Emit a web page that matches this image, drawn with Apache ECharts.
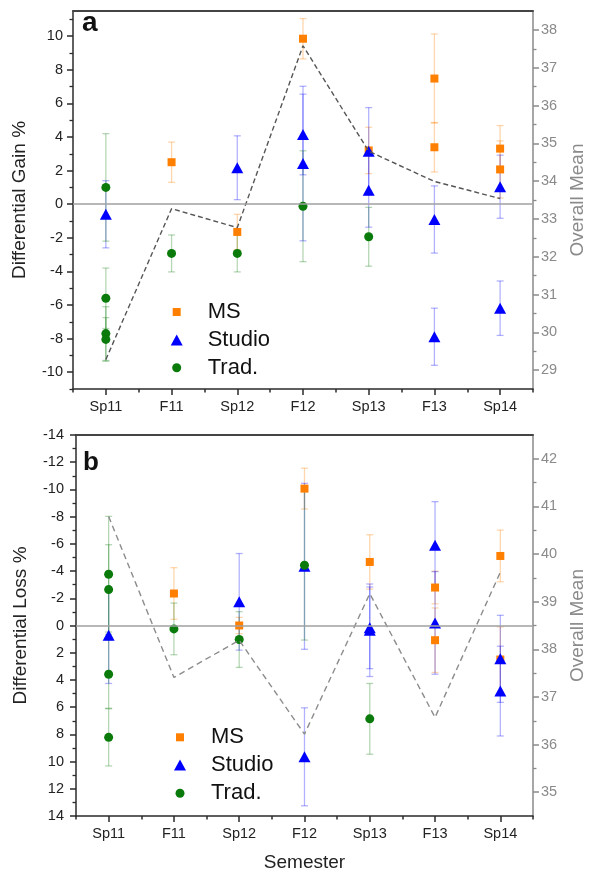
<!DOCTYPE html>
<html><head><meta charset="utf-8">
<script src="https://cdn.jsdelivr.net/npm/echarts@6/dist/echarts.min.js"></script>
<style>html,body{margin:0;padding:0;background:#fff}#c{width:595px;height:873px}</style>
</head><body><div id="c"></div>
<script>
// ---------- data ----------
const categories = ['Sp11', 'F11', 'Sp12', 'F12', 'Sp13', 'F13', 'Sp14'];

// Panel a: [semester, differential gain %, error]
const gainMS = [
  ['F11', 2.5, 1.2], ['Sp12', -1.65, 1.05], ['F12', 9.85, 1.2], ['Sp13', 3.2, 1.38],
  ['F13', 7.48, 2.65], ['F13', 3.39, 1.47], ['Sp14', 3.31, 1.37], ['Sp14', 2.07, 1.7]
];
const gainStudio = [
  ['Sp11', -0.6, 2.0], ['Sp12', 2.17, 1.9], ['F12', 4.15, 2.4], ['F12', 2.42, 4.6],
  ['Sp13', 3.15, 2.6], ['Sp13', 0.83, 2.2], ['F13', -0.91, 2.0], ['F13', -7.89, 1.7],
  ['Sp14', 1.04, 1.88], ['Sp14', -6.19, 1.62]
];
const gainTrad = [
  ['Sp11', 1.0, 3.2], ['Sp11', -5.6, 1.8], ['Sp11', -7.7, 1.6], ['Sp11', -8.05, 1.3],
  ['F11', -2.93, 1.1], ['Sp12', -2.93, 1.1], ['F12', -0.12, 3.3], ['Sp13', -1.94, 1.75]
];
const gainOverall = [29.28, 33.27, 32.77, 37.58, 34.79, 33.99, 33.54];

// Panel b: [semester, differential loss %, error]
const lossMS = [
  ['F11', -2.35, 1.9], ['Sp12', 0.0, 0.6], ['F12', -10.06, 1.5], ['Sp13', -4.67, 2.0],
  ['F13', -2.79, 1.2], ['F13', 1.08, 2.37], ['Sp14', -5.11, 1.9], ['Sp14', 2.5, 2.4]
];
const lossStudio = [
  ['Sp11', 0.71, 3.55], ['Sp12', -1.74, 3.55], ['F12', -4.35, 6.1], ['F12', 9.65, 3.6],
  ['Sp13', 0.17, 3.0], ['Sp13', 0.35, 3.4], ['F13', -5.9, 3.2], ['F13', -0.19, 3.77],
  ['Sp14', 2.45, 3.2], ['Sp14', 4.82, 3.3]
];
const lossTrad = [
  ['Sp11', -3.77, 4.25], ['Sp11', -2.64, 3.3], ['Sp11', 3.58, 2.5], ['Sp11', 8.22, 2.1],
  ['F11', 0.25, 1.9], ['Sp12', 1.03, 2.05], ['F12', -4.43, 5.5], ['Sp13', 6.86, 2.6]
];
const lossOverall = [40.79, 37.41, 38.19, 36.22, 39.17, 36.57, 39.62];

// tick values
const gainTicks = [-10, -8, -6, -4, -2, 0, 2, 4, 6, 8, 10];
const gainMinorTicks = [-11, -9, -7, -5, -3, -1, 1, 3, 5, 7, 9, 11];
const meanATicks = [29, 30, 31, 32, 33, 34, 35, 36, 37, 38];
const meanAMinorTicks = [29.5, 30.5, 31.5, 32.5, 33.5, 34.5, 35.5, 36.5, 37.5];
const meanBTicks = [35, 36, 37, 38, 39, 40, 41, 42];
const meanBMinorTicks = [35.5, 36.5, 37.5, 38.5, 39.5, 40.5, 41.5];

// ---------- styles ----------
const FONT = '"Liberation Sans", Arial, sans-serif';
const DARK = '#2b2b2b';
const GREY = '#8a8a8a';
const C_MS = '#ff7f00', C_ST = '#0000ff', C_TR = '#0a7a0a';
const E_MS = 'rgba(255,127,0,0.32)', E_ST = 'rgba(0,0,255,0.3)', E_TR = 'rgba(10,122,10,0.3)';

const errData = arr => arr.map(d => [d[0], d[1] - d[2], d[1] + d[2]]);
const ptData = arr => arr.map(d => [d[0], d[1]]);

function errRender(params, api) {
  const x = api.value(0);
  const lo = api.coord([x, api.value(1)]);
  const hi = api.coord([x, api.value(2)]);
  const hw = 3.5;
  const style = { stroke: api.visual('color'), lineWidth: 1.3 };
  return {
    type: 'group', children: [
      { type: 'line', shape: { x1: lo[0], y1: lo[1], x2: hi[0], y2: hi[1] }, style },
      { type: 'line', shape: { x1: lo[0] - hw, y1: lo[1], x2: lo[0] + hw, y2: lo[1] }, style },
      { type: 'line', shape: { x1: hi[0] - hw, y1: hi[1], x2: hi[0] + hw, y2: hi[1] }, style }
    ]
  };
}

function xAxes(grid, nameOpt) {
  const line = { show: true, onZero: false, lineStyle: { color: DARK, width: 1.5 } };
  return [
    Object.assign({
      gridIndex: grid, type: 'category', data: categories, position: 'bottom', boundaryGap: true,
      axisLine: line,
      axisTick: { show: true, alignWithLabel: true, length: 6, lineStyle: { color: DARK, width: 1.5 } },
      axisLabel: { color: '#222', fontSize: 14.5, fontFamily: FONT, margin: 10, interval: 0 },
      splitLine: { show: false }
    }, nameOpt || {}),
    {
      gridIndex: grid, type: 'category', data: categories, position: 'bottom', boundaryGap: true,
      axisLine: { show: false, onZero: false },
      axisTick: { show: true, alignWithLabel: false, length: 3.5, interval: 0, lineStyle: { color: DARK, width: 1.5 } },
      axisLabel: { show: false }, splitLine: { show: false }
    },
    {
      gridIndex: grid, type: 'category', data: categories, position: 'top', boundaryGap: true,
      axisLine: { show: true, onZero: false, lineStyle: { color: '#444', width: 2 } },
      axisTick: { show: false }, axisLabel: { show: false }, splitLine: { show: false }
    }
  ];
}

function minorAxis(grid, pos, min, max, vals, color, inverse) {
  return {
    gridIndex: grid, type: 'value', position: pos, min, max, inverse: !!inverse,
    axisLine: { show: false, onZero: false },
    axisTick: { show: true, length: 3.5, customValues: vals, lineStyle: { color, width: 1.3 } },
    axisLabel: { show: false }, splitLine: { show: false }
  };
}

const yAxes = [
  // 0: panel a left
  {
    gridIndex: 0, type: 'value', position: 'left', min: -11, max: 11.5,
    axisLine: { show: true, onZero: false, lineStyle: { color: DARK, width: 1.5 } },
    axisTick: { show: true, length: 6, customValues: gainTicks, lineStyle: { color: DARK, width: 1.5 } },
    axisLabel: { customValues: gainTicks, color: '#222', fontSize: 14.5, fontFamily: FONT, margin: 10 },
    splitLine: { show: false },
    name: 'Differential Gain %', nameLocation: 'middle', nameGap: 44, nameRotate: 90,
    nameTextStyle: { fontSize: 19, color: '#222', fontFamily: FONT }
  },
  // 1: panel a left minor
  minorAxis(0, 'left', -11, 11.5, gainMinorTicks, DARK),
  // 2: panel a right
  {
    gridIndex: 0, type: 'value', position: 'right', min: 28.5, max: 38.5,
    axisLine: { show: true, onZero: false, lineStyle: { color: GREY, width: 1.5 } },
    axisTick: { show: true, length: 6, customValues: meanATicks, lineStyle: { color: GREY, width: 1.5 } },
    axisLabel: { customValues: meanATicks, color: GREY, fontSize: 14.5, fontFamily: FONT, margin: 8 },
    splitLine: { show: false },
    name: 'Overall Mean', nameLocation: 'middle', nameGap: 34, nameRotate: 90,
    nameTextStyle: { fontSize: 19, color: GREY, fontFamily: FONT }
  },
  // 3: panel a right minor
  minorAxis(0, 'right', 28.5, 38.5, meanAMinorTicks, GREY),
  // 4: panel b left (inverted)
  {
    gridIndex: 1, type: 'value', position: 'left', min: -14, max: 14, interval: 2, inverse: true,
    axisLine: { show: true, onZero: false, lineStyle: { color: DARK, width: 1.5 } },
    axisTick: { show: true, length: 6, lineStyle: { color: DARK, width: 1.5 } },
    minorTick: { show: true, splitNumber: 2, length: 3.5, lineStyle: { color: DARK, width: 1.3 } },
    axisLabel: { color: '#222', fontSize: 14.5, fontFamily: FONT, margin: 12, showMinLabel: true, showMaxLabel: true },
    splitLine: { show: false }, minorSplitLine: { show: false },
    name: 'Differential Loss %', nameLocation: 'middle', nameGap: 46, nameRotate: 90,
    nameTextStyle: { fontSize: 19, color: '#222', fontFamily: FONT }
  },
  // 5: panel b right
  {
    gridIndex: 1, type: 'value', position: 'right', min: 34.5, max: 42.5,
    axisLine: { show: true, onZero: false, lineStyle: { color: GREY, width: 1.5 } },
    axisTick: { show: true, length: 6, customValues: meanBTicks, lineStyle: { color: GREY, width: 1.5 } },
    axisLabel: { customValues: meanBTicks, color: GREY, fontSize: 14.5, fontFamily: FONT, margin: 8 },
    splitLine: { show: false },
    name: 'Overall Mean', nameLocation: 'middle', nameGap: 31, nameRotate: 90,
    nameTextStyle: { fontSize: 19, color: GREY, fontFamily: FONT }
  },
  // 6: panel b right minor
  minorAxis(1, 'right', 34.5, 42.5, meanBMinorTicks, GREY)
];

function panelSeries(xi, yl, yr, ms, st, tr, overall, dash, dashColor) {
  const base = { xAxisIndex: xi, yAxisIndex: yl };
  return [
    Object.assign({
      type: 'line', name: 'zero', data: [], silent: true,
      markLine: {
        silent: true, symbol: 'none', label: { show: false },
        lineStyle: { color: '#a0a0a0', width: 1.5, type: 'solid' },
        data: [{ yAxis: 0 }]
      }
    }, base),
    Object.assign({ type: 'custom', name: 'MS err', renderItem: errRender, itemStyle: { color: E_MS },
      encode: { x: 0, y: [1, 2] }, data: errData(ms) }, base),
    Object.assign({ type: 'custom', name: 'Studio err', renderItem: errRender, itemStyle: { color: E_ST },
      encode: { x: 0, y: [1, 2] }, data: errData(st) }, base),
    Object.assign({ type: 'custom', name: 'Trad err', renderItem: errRender, itemStyle: { color: E_TR },
      encode: { x: 0, y: [1, 2] }, data: errData(tr) }, base),
    {
      type: 'line', name: 'Overall Mean', xAxisIndex: xi, yAxisIndex: yr, data: overall,
      symbol: 'none', silent: true,
      lineStyle: { color: dashColor, width: 1.4, type: dash }
    },
    Object.assign({ type: 'scatter', name: 'MS', symbol: 'rect', symbolSize: 8,
      itemStyle: { color: C_MS, opacity: 1 }, data: ptData(ms) }, base),
    Object.assign({ type: 'scatter', name: 'Studio', symbol: 'triangle', symbolSize: [12, 11],
      itemStyle: { color: C_ST, opacity: 1 }, data: ptData(st) }, base),
    Object.assign({ type: 'scatter', name: 'Trad.', symbol: 'circle', symbolSize: 9,
      itemStyle: { color: C_TR, opacity: 1 }, data: ptData(tr) }, base)
  ];
}

function legendItem(name, icon, w, h, cx, cy) {
  return {
    data: [{ name, icon }], orient: 'vertical', selectedMode: false, padding: 0,
    itemWidth: w, itemHeight: h, left: cx - w / 2, top: cy - 11,
    itemStyle: { opacity: 1 },
    textStyle: { fontSize: 22, color: '#111', fontFamily: FONT, padding: [0, 0, 0, 26 - w / 2] }
  };
}

const option = {
  backgroundColor: '#fff',
  animation: false,
  title: [
    { text: 'a', left: 82, top: 9, padding: 0, textStyle: { fontSize: 28, fontWeight: 'bold', color: '#111', fontFamily: FONT } },
    { text: 'b', left: 83, top: 450, padding: 0, textStyle: { fontSize: 26, fontWeight: 'bold', color: '#111', fontFamily: FONT } }
  ],
  legend: [
    legendItem('MS', 'rect', 8, 8, 176.7, 312),
    legendItem('Studio', 'triangle', 12, 11, 176.7, 340),
    legendItem('Trad.', 'circle', 9, 9, 176.7, 367.7),
    legendItem('MS', 'rect', 8, 8, 180, 737.3),
    legendItem('Studio', 'triangle', 12, 11, 180, 765),
    legendItem('Trad.', 'circle', 9, 9, 180, 793.3)
  ],
  grid: [
    { left: 73, top: 11, width: 465, height: 378, containLabel: false },
    { left: 76, top: 435, width: 469, height: 382, containLabel: false }
  ],
  xAxis: xAxes(0).concat(xAxes(1, {
    name: 'Semester', nameLocation: 'middle', nameGap: 37,
    nameTextStyle: { fontSize: 19, color: '#222', fontFamily: FONT }
  })),
  yAxis: yAxes,
  series: panelSeries(0, 0, 2, gainMS, gainStudio, gainTrad, gainOverall, [5, 3], '#555')
    .concat(panelSeries(3, 4, 5, lossMS, lossStudio, lossTrad, lossOverall, [6, 4], '#8c8c8c'))
};

const chart = echarts.init(document.getElementById('c'), null, { renderer: 'canvas' });
chart.setOption(option);
</script></body></html>
